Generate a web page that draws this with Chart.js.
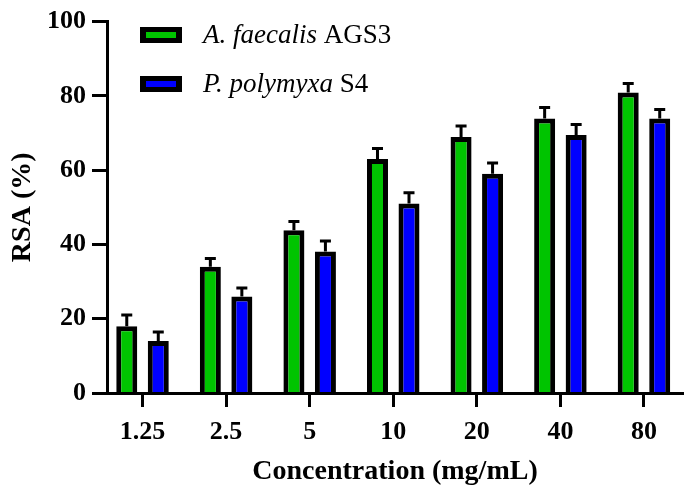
<!DOCTYPE html>
<html>
<head>
<meta charset="utf-8">
<script src="https://cdn.jsdelivr.net/npm/chart.js@4.4.0/dist/chart.umd.js"></script>
<style>
  html, body { margin: 0; padding: 0; background: #fff; }
  #wrap { width: 685px; height: 495px; }
</style>
</head>
<body>
<div id="wrap"><canvas id="chart"></canvas></div>
<script>
// data
const categories = ['1.25', '2.5', '5', '10', '20', '40', '80'];
const agsValues = [18, 34, 43.8, 63, 68.9, 73.9, 80.9];
const agsErrors = [3, 2.2, 2.4, 2.8, 3, 3, 2.4];
const s4Values = [14, 26, 38.1, 51, 59, 69.5, 73.9];
const s4Errors = [2.4, 2.3, 2.8, 2.9, 2.9, 2.8, 2.4];
const yTicks = [0, 20, 40, 60, 80, 100];
// legend names: italic part + plain part
const seriesNames = [['A. faecalis', ' AGS3'], ['P. polymyxa', ' S4']];
const seriesColors = ['#00c400', '#0000ff'];
const seriesErrors = [agsErrors, s4Errors];

const serif = "'Liberation Serif', 'Times New Roman', serif";

// upper error bars with a short cap
const errorBars = {
    id: 'errorBars',
    afterDatasetsDraw(chart) {
        const ctx = chart.ctx;
        const yScale = chart.scales.y;
        ctx.save();
        ctx.strokeStyle = '#000';
        ctx.lineWidth = 3;
        chart.data.datasets.forEach((ds, i) => {
            const meta = chart.getDatasetMeta(i);
            meta.data.forEach((bar, j) => {
                const top = yScale.getPixelForValue(ds.data[j].y + seriesErrors[i][j]);
                ctx.beginPath();
                ctx.moveTo(bar.x, bar.y);
                ctx.lineTo(bar.x, top);
                ctx.moveTo(bar.x - 5.5, top);
                ctx.lineTo(bar.x + 5.5, top);
                ctx.stroke();
            });
        });
        ctx.restore();
    }
};

// legend with italic species name
const mixedLegend = {
    id: 'mixedLegend',
    afterDraw(chart) {
        const ctx = chart.ctx;
        const left = chart.chartArea.left + 33;
        ctx.save();
        chart.data.datasets.forEach((ds, i) => {
            const cy = 35 + i * 49;
            ctx.fillStyle = '#000';
            ctx.fillRect(left, cy - 8, 42, 16);
            ctx.fillStyle = ds.backgroundColor;
            ctx.fillRect(left + 6, cy - 3, 30, 6);
            ctx.fillStyle = '#000';
            ctx.textBaseline = 'alphabetic';
            ctx.textAlign = 'left';
            let x = left + 63;
            ctx.font = 'italic 27px ' + serif;
            ctx.fillText(seriesNames[i][0], x, cy + 8);
            x += ctx.measureText(seriesNames[i][0]).width;
            ctx.font = '27px ' + serif;
            ctx.fillText(seriesNames[i][1], x, cy + 8);
        });
        ctx.restore();
    }
};

const datasets = [agsValues, s4Values].map((vals, i) => ({
    label: seriesNames[i].join(''),
    data: vals.map((v, j) => ({ x: j, y: v })),
    backgroundColor: seriesColors[i],
    borderColor: '#000',
    borderWidth: 5,
    borderSkipped: 'start',
    categoryPercentage: 0.754,
    barPercentage: 0.667
}));

new Chart(document.getElementById('chart'), {
    type: 'bar',
    data: { datasets: datasets },
    options: {
        responsive: true,
        maintainAspectRatio: false,
        animation: false,
        layout: { padding: { top: 11, right: 2, left: 0, bottom: 0 } },
        plugins: {
            legend: { display: false },
            tooltip: { enabled: false }
        },
        scales: {
            x: {
                type: 'linear',
                min: -0.425,
                max: 6.467,
                offset: false,
                afterBuildTicks: (scale) => {
                    scale.ticks = categories.map((c, i) => ({ value: i }));
                },
                afterFit: (scale) => { scale.height = 102; },
                ticks: {
                    callback: (v) => categories[v],
                    color: '#000',
                    padding: 10,
                    maxRotation: 0,
                    autoSkip: false,
                    font: { family: serif, size: 26, weight: 'bold' }
                },
                grid: {
                    offset: false,
                    drawOnChartArea: false,
                    drawTicks: true,
                    tickLength: 14,
                    tickWidth: 3,
                    color: '#000'
                },
                border: { display: true, color: '#000', width: 3, z: 1 },
                title: {
                    display: true,
                    text: 'Concentration (mg/mL)',
                    color: '#000',
                    padding: { top: 0, bottom: 6 },
                    font: { family: serif, size: 28, weight: 'bold', lineHeight: 1.2 }
                }
            },
            y: {
                min: 0,
                max: 100,
                afterBuildTicks: (scale) => {
                    scale.ticks = yTicks.map(v => ({ value: v }));
                },
                afterFit: (scale) => { scale.width = 107; },
                ticks: {
                    color: '#000',
                    padding: 6,
                    font: { family: serif, size: 26, weight: 'bold' }
                },
                grid: {
                    drawOnChartArea: false,
                    drawTicks: true,
                    tickLength: 15,
                    tickWidth: 3,
                    color: '#000'
                },
                border: { display: true, color: '#000', width: 3, z: 1 },
                title: {
                    display: true,
                    text: 'RSA (%)',
                    color: '#000',
                    padding: { top: 6, bottom: 0 },
                    font: { family: serif, size: 28, weight: 'bold', lineHeight: 1.2 }
                }
            }
        }
    },
    plugins: [errorBars, mixedLegend]
});
</script>
</body>
</html>
